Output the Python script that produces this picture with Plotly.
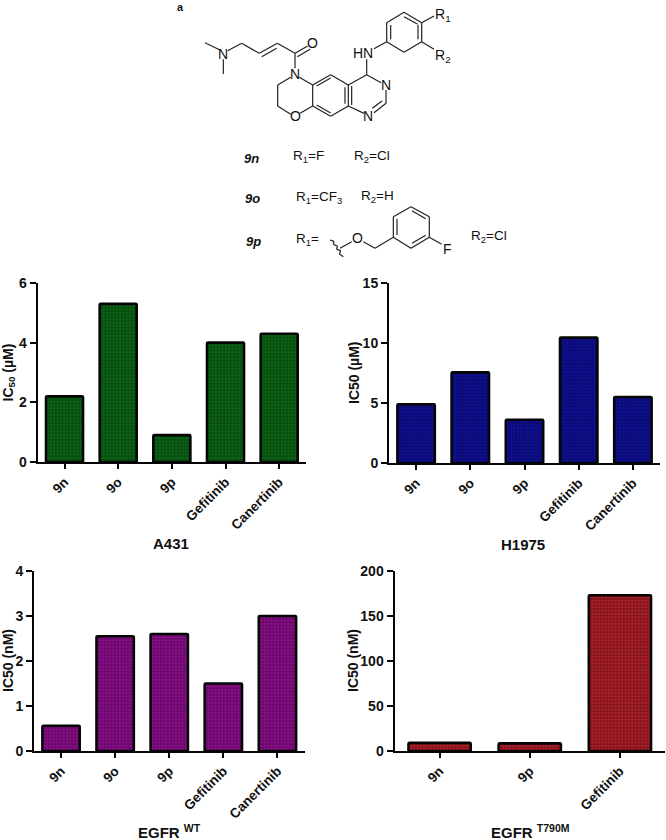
import plotly.graph_objects as go

W, H = 666, 840
FONT = "Liberation Sans"

cats_a431 = ["9n", "9o", "9p", "Gefitinib", "Canertinib"]
vals_a431 = [2.2, 5.3, 0.9, 4.0, 4.3]
cats_h1975 = ["9n", "9o", "9p", "Gefitinib", "Canertinib"]
vals_h1975 = [4.9, 7.55, 3.6, 10.45, 5.5]
cats_wt = ["9n", "9o", "9p", "Gefitinib", "Canertinib"]
vals_wt = [0.56, 2.55, 2.6, 1.5, 3.0]
cats_t790m = ["9n", "9p", "Gefitinib"]
vals_t790m = [9, 8.5, 173]


def px(x):
    return x / W


def py(y):
    return 1 - y / H


panels = [
    dict(c=cats_a431, v=vals_a431, col="#0c6a14", fg="#02280a", box=(37.7, 306, 283, 462), yr=6, dt=2,
         yt="<b>IC<sub>50</sub> (µM)</b>", ytx=8, t="A431", tx=171, ty=543),
    dict(c=cats_h1975, v=vals_h1975, col="#10109c", fg="#04043f", box=(389, 660, 283, 463), yr=15, dt=5,
         yt="<b>IC50 (µM)</b>", ytx=354, t="H1975", tx=523, ty=544),
    dict(c=cats_wt, v=vals_wt, col="#920e92", fg="#340434", box=(34, 304.5, 571, 751), yr=4, dt=1,
         yt="<b>IC50 (nM)</b>", ytx=8, t="EGFR <sup>WT</sup>", tx=169, ty=831),
    dict(c=cats_t790m, v=vals_t790m, col="#b8202c", fg="#40080e", box=(394.5, 665, 571, 751), yr=200, dt=50,
         yt="<b>IC50 (nM)</b>", ytx=353, t="EGFR <sup>T790M</sup>", tx=530, ty=831),
]

fig = go.Figure()
ann = []
shapes = []


def text(x, y, s, size=13, **kw):
    ann.append(dict(x=px(x), y=py(y), xref="paper", yref="paper", text=s, showarrow=False,
                    font=dict(family=FONT, size=size, color="#111"), xanchor=kw.pop("xanchor", "center"),
                    yanchor="middle", **kw))


for i, p in enumerate(panels):
    n = "" if i == 0 else str(i + 1)
    x0, x1, y0, y1 = p["box"]
    fig.add_trace(go.Bar(
        x=p["c"], y=p["v"], xaxis="x" + n, yaxis="y" + n, width=0.69, showlegend=False,
        marker=dict(color=p["col"], line=dict(color="#050505", width=2.6),
                    pattern=dict(shape=".", size=3.3, solidity=0.65, fgcolor=p["fg"], bgcolor=p["col"]),
                    cornerradius=1),
    ))
    tickfont = dict(family=FONT, size=13.5, color="#111", weight="bold")
    fig.layout["xaxis" + n] = dict(
        domain=[px(x0), px(x1)], anchor="y" + n, range=[-0.5, len(p["c"]) - 0.5], type="category",
        tickangle=-45, ticks="outside", ticklen=5, tickwidth=1.8, tickcolor="#050505",
        showline=True, linecolor="#050505", linewidth=2, showgrid=False, zeroline=False, tickfont=tickfont)
    fig.layout["yaxis" + n] = dict(
        domain=[py(y1), py(y0)], anchor="x" + n, range=[0, p["yr"]], dtick=p["dt"], ticks="outside", ticklen=6,
        tickwidth=1.8, tickcolor="#050505", showline=True, linecolor="#050505", linewidth=2, showgrid=False,
        zeroline=False, tickfont=dict(family=FONT, size=14, color="#111", weight="bold"))
    ann.append(dict(x=px(p["ytx"]), y=py((y0 + y1) / 2), xref="paper", yref="paper", text=p["yt"], textangle=-90,
                    xanchor="center", yanchor="middle",
                    showarrow=False, font=dict(family=FONT, size=14, color="#111")))
    text(p["tx"], p["ty"], "<b>%s</b>" % p["t"], size=15)


def sx(x):
    return 180 + x / 3


def sy(y):
    return y / 3


bonds = [
    (75, 128, 120, 150), (130, 178, 130, 222), (143, 152, 185, 130), (185, 130, 238, 160), (238, 160, 292, 130),
    (245, 170, 290, 145), (292, 130, 345, 160), (345, 160, 383, 138), (352, 170, 390, 148), (345, 160, 345, 205),
    (332, 232, 293, 255), (293, 255, 293, 318), (293, 318, 332, 343), (360, 340, 398, 318), (358, 232, 398, 255),
    (398, 318, 398, 255), (398, 255, 452, 224), (410, 258, 452, 234), (452, 224, 505, 255), (505, 255, 505, 318),
    (495, 262, 495, 311), (505, 318, 452, 349), (452, 349, 398, 318), (410, 315, 452, 339), (505, 255, 560, 224),
    (560, 224, 603, 248), (552, 340, 505, 318), (618, 270, 618, 310), (618, 310, 582, 338), (606, 303, 577, 325),
    (515, 258, 515, 315), (560, 224, 560, 178), (582, 146, 620, 125), (620, 125, 620, 68), (632, 118, 632, 75),
    (620, 68, 672, 37), (672, 50, 712, 72), (672, 37, 725, 68), (725, 68, 725, 125), (714, 74, 714, 118),
    (725, 125, 672, 157), (672, 157, 620, 125), (725, 68, 762, 48), (725, 125, 762, 148),
    (640, 650, 693, 620), (693, 620, 748, 650), (696, 632, 737, 656), (748, 650, 748, 712), (748, 712, 693, 745),
    (737, 706, 696, 730), (693, 745, 640, 712), (640, 712, 640, 650), (651, 705, 651, 657), (748, 712, 785, 733),
    (640, 712, 585, 745), (585, 745, 550, 725), (515, 725, 480, 745),
    (450, 720, 462, 724), (462, 724, 460, 733), (460, 733, 472, 738), (472, 738, 470, 748), (470, 748, 482, 752),
    (482, 752, 478, 762), (478, 762, 490, 770),
]
for a, b, c, d in bonds:
    shapes.append(dict(type="line", xref="paper", yref="paper", x0=px(sx(a)), y0=py(sy(b)), x1=px(sx(c)), y1=py(sy(d)),
                       line=dict(color="#222", width=1.2)))

atoms = [("N", 130, 162), ("O", 398, 130), ("N", 345, 222), ("O", 345, 347), ("N", 618, 255), ("N", 565, 348),
         ("HN", 550, 158), ("R<sub>1</sub>", 790, 44), ("R<sub>2</sub>", 790, 167), ("F", 803, 748), ("O", 532, 715)]
for s, a, b in atoms:
    text(sx(a), sy(b), s, size=14)

text(180, 7, "<b>a</b>", size=11)
text(sx(213), sy(474), "<b><i>9n</i></b>", size=13)
text(sx(385), sy(468), "R<sub>1</sub>=F", size=13.5)
text(sx(575), sy(468), "R<sub>2</sub>=Cl", size=13.5)
text(sx(217), sy(596), "<b><i>9o</i></b>", size=13)
text(sx(416), sy(592), "R<sub>1</sub>=CF<sub>3</sub>", size=13.5)
text(sx(592), sy(590), "R<sub>2</sub>=H", size=13.5)
text(sx(220), sy(724), "<b><i>9p</i></b>", size=13)
text(sx(382), sy(717), "R<sub>1</sub>=", size=13.5)
text(sx(927), sy(710), "R<sub>2</sub>=Cl", size=13.5)

fig.update_layout(width=W, height=H, margin=dict(l=0, r=0, t=0, b=0, autoexpand=False), paper_bgcolor="white",
                  plot_bgcolor="white", annotations=ann, shapes=shapes)
fig.write_html("out.html", config={"displayModeBar": False},
               post_script="document.body.style.margin='0';document.documentElement.style.overflow='hidden';")
